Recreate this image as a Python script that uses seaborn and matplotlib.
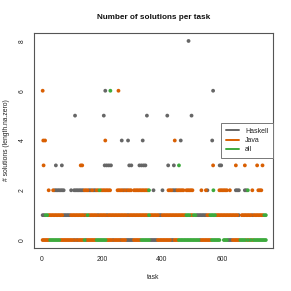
import numpy as np
import pandas as pd
import matplotlib
matplotlib.use("Agg")
import matplotlib.pyplot as plt
from matplotlib.lines import Line2D
import seaborn as sns

# --- data ---
# rows n = 0, 1, 2: which series' dot shows, one letter per block of 5 tasks
# h = Haskell, j = Java, a = all, . = no dot
block_size = 5
row0 = ("jjjjjaaaaaaajjjjjjjjjhjhjjjjahjjjjjjaaaaaaajjjjhjj"
        "jjhjjjhhhhhjjjjjaaaaaahhhhhjjjjjjjjjhhjjjaaaaaaaaa"
        "aaaaahjjjjjjjaaaaaa..aaahhhjjjjjaaaajajajaaaaaaaaa")
row1 = ("hhaajjjjjjjjjjhhhhhjjjjjjjjjhjajjjjjjhjjjjjhjjjjjj"
        "jjjjjjjhjjjjjjjjjjjjjajjjjjjhhjjjjjjjjjjjjjjjjaaaj"
        "jaahhhhhhhjjaaaajjjjjjjjjjjjjjjh.jjjjjjjhjjjjjjjaa")
row2 = ("....j..jhhhhhhh....h.hhhhhhhjjjhhjhhjjajjjjjjj...."
        "jjjjhjhjjj.jjjjjjjjjja..h.....h...jjjhhhjjjjj.jjjj"
        "j.....j..jh...a...jjjjjj.j...hhh...hha..j...jjj...")

# single tasks with 3 or more solutions
haskell_task = [46, 66, 209, 216, 223, 230, 291, 298, 325, 332, 339, 345, 421, 440, 593, 598,
                266, 287, 336, 463, 568,
                110, 206, 350, 418, 499,
                211, 571,
                489]
haskell_n = [3, 3, 3, 3, 3, 3, 3, 3, 3, 3, 3, 3, 3, 3, 3, 3,
             4, 4, 4, 4, 4,
             5, 5, 5, 5, 5,
             6, 6,
             8]
java_task = [5, 129, 134, 571, 647, 677, 718, 736, 4, 10, 211, 443, 2, 255]
java_n = [3, 3, 3, 3, 3, 3, 3, 3, 4, 4, 4, 4, 6, 6]
all_task = [457, 228]
all_n = [3, 6]

langs = ["Haskell", "Java", "all"]
colors = {"Haskell": "#666666", "Java": "#D95F02", "all": "#3DAA3D"}
code_lang = {"h": "Haskell", "j": "Java", "a": "all"}

assert len(row0) == len(row1) == len(row2) == 150

records = []
for n, codes in enumerate([row0, row1, row2]):
    for b, c in enumerate(codes):
        if c in code_lang:
            records.append((b * block_size + 2, n, code_lang[c]))
for lang, tasks, ns in [("Haskell", haskell_task, haskell_n),
                        ("Java", java_task, java_n),
                        ("all", all_task, all_n)]:
    records += [(t, v, lang) for t, v in zip(tasks, ns)]

df = pd.DataFrame(records, columns=["task", "n", "lang"])
df["lang"] = pd.Categorical(df["lang"], langs)
df = df.sort_values("lang", kind="stable")  # Haskell drawn first, all on top

# --- plot ---
sns.set_style("white")
plt.rcParams["font.family"] = ["Liberation Sans", "DejaVu Sans"]

fig = plt.figure(figsize=(2.91, 2.91), dpi=100)
ax = fig.add_axes([34 / 291, 43 / 291, 239 / 291, 215 / 291])

sns.scatterplot(data=df, x="task", y="n", hue="lang", hue_order=langs,
                palette=colors, s=7.5, linewidth=0, legend=False, ax=ax)

ax.set_xlim(-27, 771)
ax.set_ylim(-0.32, 8.32)
ax.set_xticks([0, 200, 400, 600])
ax.set_yticks([0, 2, 4, 6, 8])
ax.tick_params(length=2.5, width=0.6, color="#444444", labelsize=4.9, pad=3.5,
               labelcolor="#222222")
ax.tick_params(axis="y", labelrotation=90)
for lab in ax.get_yticklabels():
    lab.set_va("center")
for sp in ax.spines.values():
    sp.set_color("#555555")
    sp.set_linewidth(0.8)

ax.set_xlabel("task", fontsize=4.9, color="#222222")
ax.xaxis.set_label_coords(0.5, -0.136)
ax.xaxis.label.set_va("center")
ax.set_ylabel("# solutions (length.na.zero)", fontsize=4.9, color="#222222")
ax.yaxis.set_label_coords(-0.114, 0.5)
ax.yaxis.label.set_va("center")

fig.text(153.5 / 291, 1 - 17.7 / 291, "Number of solutions per task",
         ha="center", va="center", fontsize=5.9, fontweight="bold", color="#111111")

handles = [Line2D([0], [0], color=colors[l], lw=1.4) for l in langs]
leg = ax.legend(handles, langs, loc="center right", bbox_to_anchor=(1.0, 0.5),
                borderaxespad=0, fontsize=5.0, handlelength=1.95, handletextpad=0.8,
                borderpad=0.7, labelspacing=0.3, fancybox=False, framealpha=1)
leg.get_frame().set_edgecolor("#777777")
leg.get_frame().set_linewidth(0.7)
for t in leg.get_texts():
    t.set_color("#222222")

fig.savefig("out.png", dpi=100)
